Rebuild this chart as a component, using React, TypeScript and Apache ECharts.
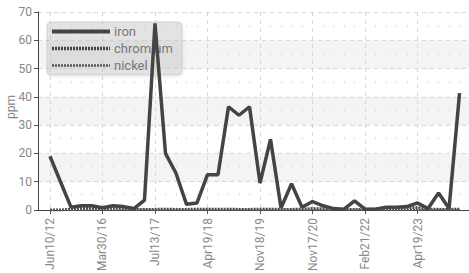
import React, { useEffect, useRef } from "react";
import * as echarts from "echarts";

const categories = [
  "Jun10/12", "", "", "", "", "Mar30/16", "", "", "", "",
  "Jul13/17", "", "", "", "", "Apr19/18", "", "", "", "",
  "Nov18/19", "", "", "", "", "Nov17/20", "", "", "", "",
  "Feb21/22", "", "", "", "", "Apr19/23", "", "", "", "",
];
const iron = [
  19, 10, 1, 1.5, 1.5, 0.8, 1.5, 1.2, 0.5, 3.5,
  66, 20, 13, 2, 2.5, 12.5, 12.5, 36.5, 33.5, 36.5,
  9.5, 25, 0.7, 9.3, 1, 3, 1.5, 0.5, 0.3, 3.2,
  0.3, 0.3, 1, 1, 1.2, 2.5, 0.5, 6, 0.5, 41.3,
];
const chromium = [
  0, 0, 0.3, 0.8, 0.6, 0.3, 0.9, 0.6, 0.2, 0.2,
  0.2, 0.3, 0.2, 0.2, 0.3, 0.3, 0.3, 0.3, 0.2, 0.2,
  0.3, 0.3, 0.2, 0.2, 0.3, 0.5, 0.4, 0.2, 0.2, 0.2,
  0.2, 0.3, 0.8, 0.8, 0.8, 0.8, 0.3, 0.2, 0.2, 0.3,
];
const nickel = [
  0, 0, 0, 0, 0, 0, 0, 0, 0, 0,
  0, 0, 0, 0, 0, 0, 0, 0, 0, 0,
  0, 0, 0, 0, 0, 0, 0, 0, 0, 0,
  0, 0, 0, 0, 0, 0, 0, 0, 0, 0,
];
const labelIdx = [0, 5, 10, 15, 20, 25, 30, 35];
const seriesNames = ["iron", "chromium", "nickel"];
const legendWidths = [4, 3.5, 2.5];
const yAxisTitle = "ppm";

const FONT = "Roboto, 'Liberation Sans', sans-serif";

export default function App() {
  const ref = useRef<HTMLDivElement>(null);
  useEffect(() => {
    if (!ref.current) return;
    const chart = echarts.init(ref.current, undefined, { renderer: "svg" });
    const pts = (arr: number[]) => arr.map((v, i) => [i, v]);
    const minorIdx = categories.map((_, i) => i).filter((i) => i % 5 !== 0);
    chart.setOption({
      animation: false,
      backgroundColor: "#ffffff",
      grid: { left: 38, right: 0, top: 12, bottom: 63, containLabel: false, outerBoundsMode: "none" },
      graphic: [
        {
          type: "text",
          x: 11,
          y: 107,
          rotation: Math.PI / 2,
          style: {
            text: yAxisTitle,
            fill: "#888",
            font: `12px ${FONT}`,
            align: "center",
            verticalAlign: "middle",
          },
        },
      ],
      legend: {
        left: 47,
        top: 22,
        orient: "vertical",
        itemWidth: 58,
        itemHeight: 12,
        itemGap: 4,
        padding: [3, 9, 3, 3],
        backgroundColor: "rgba(205,205,205,0.45)",
        borderColor: "rgba(190,190,190,0.6)",
        borderWidth: 1,
        borderRadius: 4,
        shadowColor: "rgba(0,0,0,0.15)",
        shadowBlur: 3,
        shadowOffsetX: 1,
        shadowOffsetY: 1,
        textStyle: { color: "#777", fontFamily: FONT, fontSize: 13, padding: [0, 0, 0, -1] },
        data: seriesNames.map((n, i) => ({
          name: n,
          itemStyle: { opacity: 0, borderWidth: 0 },
          lineStyle: { width: legendWidths[i] },
        })),
      },
      xAxis: {
        type: "value",
        min: -1.14,
        max: 39.9,
        axisLine: { show: true, onZero: false, lineStyle: { color: "#444", width: 1 } },
        axisTick: { show: true, customValues: labelIdx, length: 4, lineStyle: { color: "#555" } },
        axisLabel: {
          customValues: labelIdx,
          rotate: 90,
          color: "#888",
          fontFamily: FONT,
          fontSize: 12,
          margin: 8,
          formatter: (v: number) => categories[Math.round(v)] ?? "",
        },
        splitLine: { show: true, lineStyle: { color: "#d6d6d6", type: [4, 4] } },
      },
      yAxis: {
        type: "value",
        min: 0,
        max: 70,
        interval: 10,
        axisLine: { show: true, onZero: false, lineStyle: { color: "#444", width: 1 } },
        axisTick: { show: true, length: 4, lineStyle: { color: "#555" } },
        axisLabel: { color: "#888", fontFamily: FONT, fontSize: 12, margin: 6 },
        splitLine: { show: true, lineStyle: { color: "#d6d6d6", type: [4, 4] } },
        splitArea: { show: true, areaStyle: { color: ["rgba(0,0,0,0)", "#f4f4f4"] } },
      },
      series: [
        {
          name: "iron",
          type: "line",
          data: pts(iron),
          symbol: "none",
          z: 4,
          lineStyle: { color: "#444", width: 3.5 },
          itemStyle: { color: "#444" },
        },
        {
          name: "chromium",
          type: "line",
          data: pts(chromium),
          symbol: "none",
          z: 3,
          lineStyle: { color: "#444", width: 3, type: [2, 1] },
          itemStyle: { color: "#444" },
        },
        {
          name: "nickel",
          type: "line",
          data: pts(nickel),
          symbol: "none",
          z: 3,
          lineStyle: { color: "#555", width: 2, type: [2, 1] },
          itemStyle: { color: "#555" },
          markLine: {
            silent: true,
            z: 1,
            symbol: "none",
            label: { show: false },
            lineStyle: { color: "#e6e6e6", width: 1, type: [3, 11] },
            data: minorIdx.map((i) => ({ xAxis: i })),
          },
        },
      ],
    });
    return () => chart.dispose();
  }, []);
  return (
    <div
      ref={ref}
      style={{ position: "fixed", left: 0, top: 0, width: 469, height: 273 }}
    />
  );
}
